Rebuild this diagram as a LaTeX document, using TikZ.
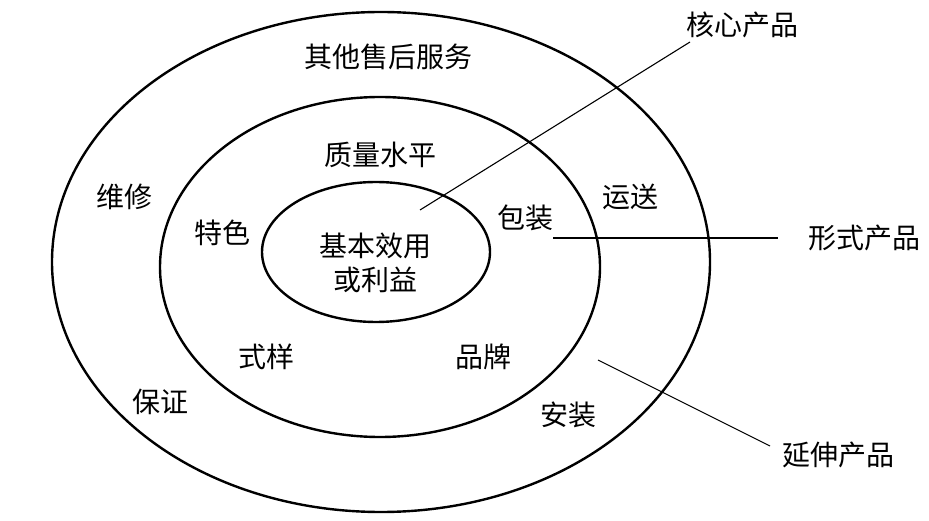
\documentclass[tikz,border=0pt]{standalone}
\usepackage{fontspec}
\setmainfont{Noto Sans CJK SC}
\begin{document}
\begin{tikzpicture}[x=1pt,y=-1pt,
  ring/.style={draw,line width=2.4pt},
  lbl/.style={font=\fontsize{28}{30}\selectfont,inner sep=1pt,align=center},
  lead/.style={line width=1.1pt}]
\useasboundingbox (0,0) rectangle (929,521);

% rings
\draw[ring] (381,262) ellipse [x radius=329, y radius=250];
\draw[ring] (380,267) ellipse [x radius=220, y radius=170];
\draw[ring] (376,252) ellipse [x radius=114, y radius=70];

% labels inside
\node[lbl] (shfw) at (388,57) {其他售后服务};
\node[lbl] (zlsp) at (380,155) {质量水平};
\node[lbl] (wx) at (124,197) {维修};
\node[lbl] (ts) at (222,233) {特色};
\node[lbl] (jbxy) at (375,246) {基本效用};
\node[lbl] (hly) at (375,280) {或利益};
\node[lbl] (bz) at (525,218) {包装};
\node[lbl] (ys) at (630,197) {运送};
\node[lbl] (sy) at (266,357) {式样};
\node[lbl] (pp) at (483,357) {品牌};
\node[lbl] (bzh) at (160,402) {保证};
\node[lbl] (az) at (568,415) {安装};

% outside labels
\node[lbl] (hxcp) at (742,25) {核心产品};
\node[lbl] (xscp) at (864,238) {形式产品};
\node[lbl] (yscp) at (838,455) {延伸产品};

\coordinate (hxend) at (420,210);
\coordinate (hxtop) at (690,42);
\coordinate (xsend) at (553,238);
\coordinate (xstop) at (778,238);
\coordinate (ysend) at (598,360);
\coordinate (ystop) at (770,446);

\draw[lead] (hxend) -- (hxtop);
\draw[lead] (xsend) -- (xstop);
\draw[lead] (ysend) -- (ystop);
\end{tikzpicture}
\end{document}
